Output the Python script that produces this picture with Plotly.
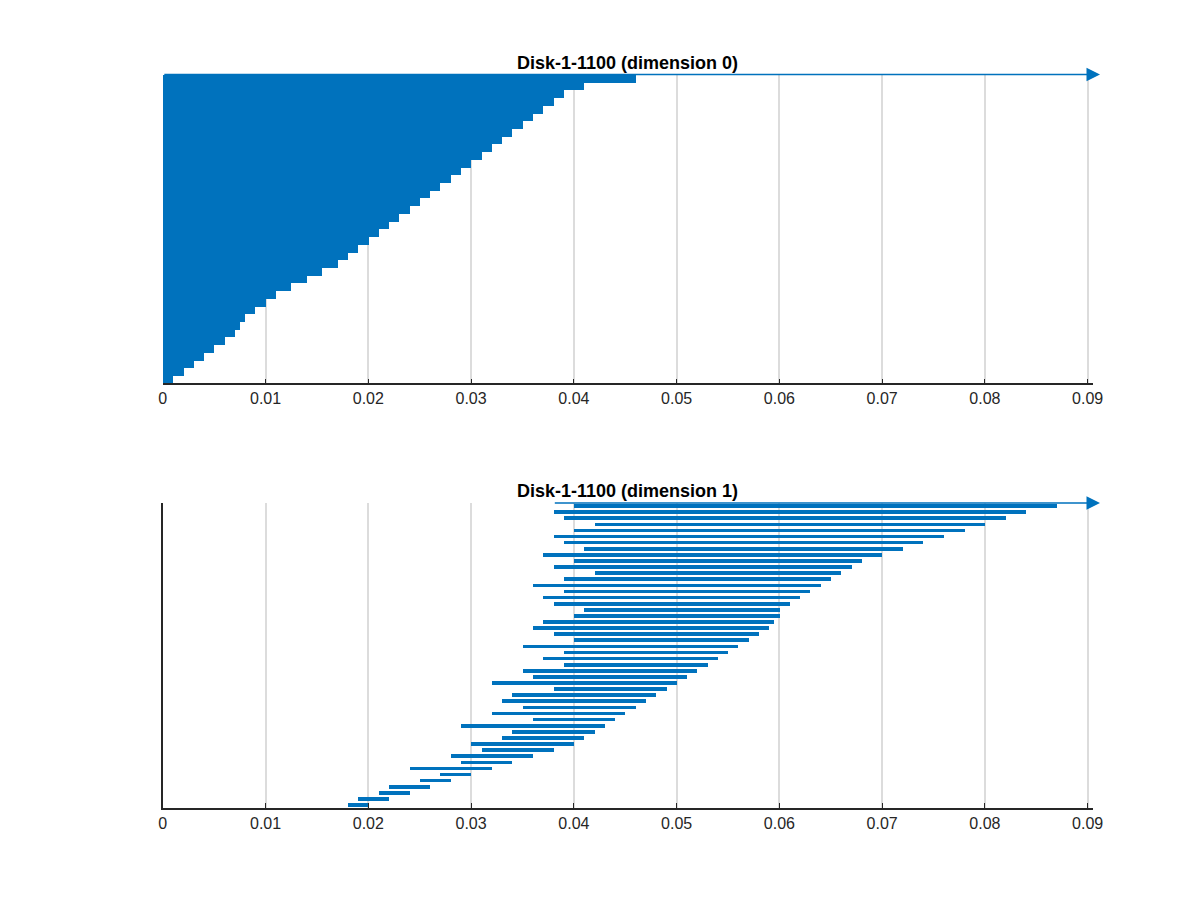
import plotly.graph_objects as go

blue = "#0072BD"
x_max = 0.09

# dimension 0: births are all 0, deaths sorted (bottom to top)
dim0_death = [0.001, 0.002, 0.003, 0.004, 0.005, 0.006, 0.007, 0.0075, 0.008, 0.009,
              0.010, 0.011, 0.0125, 0.014, 0.0155, 0.017, 0.018, 0.019, 0.020, 0.021,
              0.022, 0.023, 0.024, 0.025, 0.026, 0.027, 0.028, 0.029, 0.030, 0.031,
              0.032, 0.033, 0.034, 0.035, 0.036, 0.037, 0.038, 0.039, 0.041, 0.046]
dim0_inf_birth = 0.0

# dimension 1
dim1_death = [0.020, 0.022, 0.024, 0.026, 0.028, 0.030, 0.032, 0.034, 0.036, 0.038,
              0.040, 0.041, 0.042, 0.043, 0.044, 0.045, 0.046, 0.047, 0.048, 0.049,
              0.050, 0.051, 0.052, 0.053, 0.054, 0.055, 0.056, 0.057, 0.058, 0.059,
              0.0595, 0.060, 0.060, 0.061, 0.062, 0.063, 0.064, 0.065, 0.066, 0.067,
              0.068, 0.070, 0.072, 0.074, 0.076, 0.078, 0.080, 0.082, 0.084, 0.087]
dim1_birth = [0.018, 0.019, 0.021, 0.022, 0.025, 0.027, 0.024, 0.029, 0.028, 0.031,
              0.030, 0.033, 0.034, 0.029, 0.036, 0.032, 0.035, 0.033, 0.034, 0.038,
              0.032, 0.036, 0.035, 0.039, 0.037, 0.039, 0.035, 0.040, 0.038, 0.036,
              0.037, 0.040, 0.041, 0.038, 0.037, 0.039, 0.036, 0.039, 0.042, 0.038,
              0.040, 0.037, 0.041, 0.039, 0.038, 0.040, 0.042, 0.039, 0.038, 0.040]
dim1_inf_birth = 0.038

ticks = [0, 0.01, 0.02, 0.03, 0.04, 0.05, 0.06, 0.07, 0.08, 0.09]
tick_text = ["0", "0.01", "0.02", "0.03", "0.04", "0.05", "0.06", "0.07", "0.08", "0.09"]

fig = go.Figure()
n0 = len(dim0_death)
fig.add_trace(go.Bar(y=list(range(n0)), x=dim0_death, base=[0] * n0, orientation="h",
                     marker=dict(color=blue, line_width=0), width=1.0,
                     xaxis="x", yaxis="y", showlegend=False))
n1 = len(dim1_death)
fig.add_trace(go.Bar(y=list(range(n1)), x=[d - b for d, b in zip(dim1_death, dim1_birth)],
                     base=dim1_birth, orientation="h",
                     marker=dict(color=blue, line_width=0), width=0.6,
                     xaxis="x2", yaxis="y2", showlegend=False))

# infinite bars as arrows
for xr, yr, b, n in [("x", "y", dim0_inf_birth, n0), ("x2", "y2", dim1_inf_birth, n1)]:
    fig.add_annotation(x=x_max + 0.0012, y=n - 0.5, ax=b, ay=n - 0.5, xref=xr, yref=yr,
                       axref=xr, ayref=yr, showarrow=True, arrowhead=2,
                       arrowsize=1.8, arrowwidth=1.5, arrowcolor=blue, text="")

axis_common = dict(range=[0, 0.0905], tickvals=ticks, ticktext=tick_text,
                   showgrid=True, gridcolor="#dcdcdc", gridwidth=1.5, zeroline=False,
                   showline=True, linecolor="#262626", linewidth=1.5,
                   ticks="inside", ticklen=5, tickcolor="#262626",
                   tickfont=dict(size=16, color="#262626"))
fig.update_layout(
    width=1200, height=900, plot_bgcolor="white", paper_bgcolor="white",
    margin=dict(l=0, r=0, t=0, b=0, autoexpand=False), bargap=0,
    font=dict(family="Liberation Sans, Arial", color="#262626"),
    xaxis=dict(domain=[0.129, 0.904], anchor="y", **axis_common),
    yaxis=dict(domain=[0.583, 0.926], range=[-0.5, n0 - 0.5], showticklabels=False,
               showgrid=False, zeroline=False, showline=False),
    xaxis2=dict(domain=[0.129, 0.904], anchor="y2", **axis_common),
    yaxis2=dict(domain=[0.111, 0.45], range=[-0.5, n1 - 0.5], showticklabels=False,
                showgrid=False, zeroline=False, showline=True, linecolor="#262626",
                linewidth=1.5),
)
fig.add_annotation(text="<b>Disk-1-1100 (dimension 0)</b>", x=0.5165, y=0.926, xref="paper",
                   yref="paper", yanchor="bottom", showarrow=False, font=dict(size=18, color="black"))
fig.add_annotation(text="<b>Disk-1-1100 (dimension 1)</b>", x=0.5165, y=0.45, xref="paper",
                   yref="paper", yanchor="bottom", showarrow=False, font=dict(size=18, color="black"))

fig.write_html("out.html")
